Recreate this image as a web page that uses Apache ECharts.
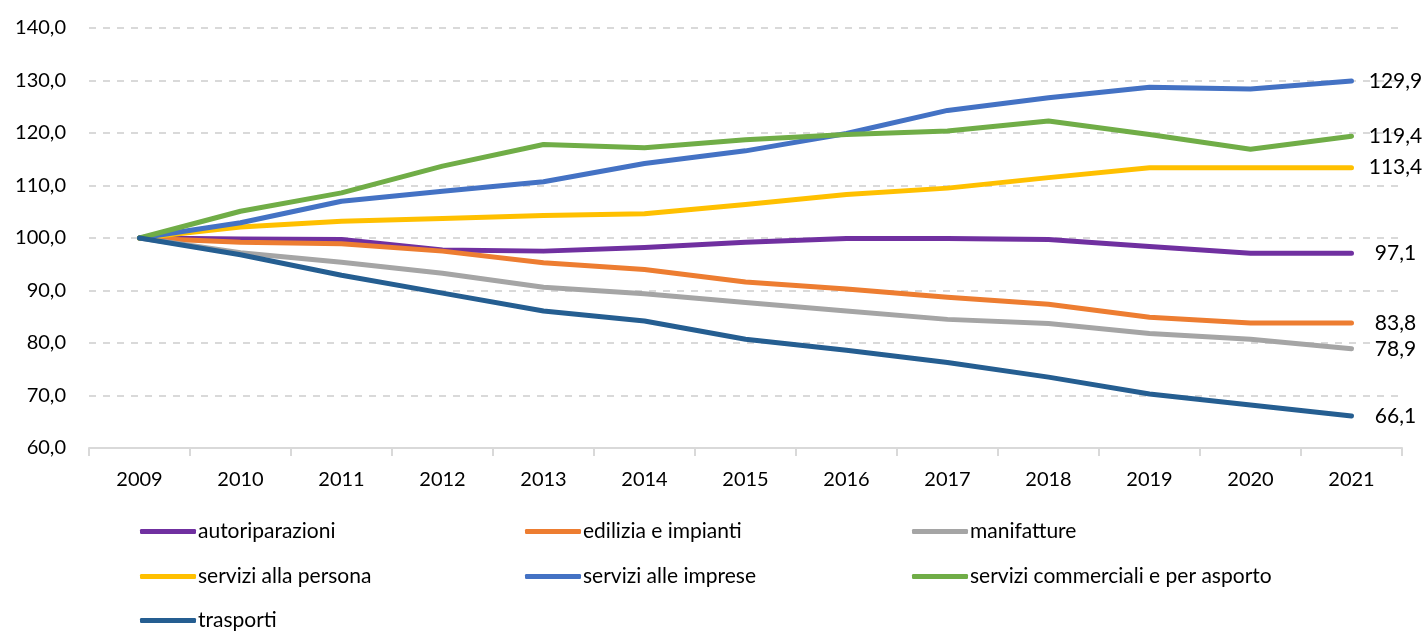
<!DOCTYPE html>
<html>
<head>
<meta charset="utf-8">
<script src="https://cdn.jsdelivr.net/npm/echarts@6/dist/echarts.min.js"></script>
<style>
html,body{margin:0;padding:0;background:#fff;}
#chart{width:1425px;height:632px;}
</style>
</head>
<body>
<div id="chart"></div>
<script>
const years = ['2009','2010','2011','2012','2013','2014','2015','2016','2017','2018','2019','2020','2021'];
const autoriparazioni = [100,99.8,99.7,97.7,97.5,98.2,99.2,99.9,99.9,99.7,98.4,97.1,97.1];
const edilizia = [100,99.2,98.9,97.5,95.3,94.0,91.6,90.3,88.7,87.4,84.9,83.8,83.8];
const manifatture = [100,97.2,95.4,93.3,90.6,89.4,87.7,86.1,84.5,83.7,81.8,80.7,78.9];
const persona = [100,102.1,103.2,103.7,104.3,104.6,106.4,108.3,109.5,111.5,113.4,113.4,113.4];
const imprese = [100,102.9,107.0,108.9,110.7,114.2,116.6,119.9,124.3,126.7,128.7,128.4,129.9];
const commerciali = [100,105.1,108.6,113.7,117.8,117.2,118.7,119.7,120.4,122.3,119.7,116.9,119.4];
const trasporti = [100,96.8,92.9,89.5,86.1,84.2,80.7,78.6,76.3,73.5,70.3,68.2,66.1];
const seriesNames = ['autoriparazioni','edilizia e impianti','manifatture','servizi alla persona','servizi alle imprese','servizi commerciali e per asporto','trasporti'];
const seriesData = [autoriparazioni, edilizia, manifatture, persona, imprese, commerciali, trasporti];
const colors = ['#7030A0','#ED7D31','#A5A5A5','#FFC000','#4472C4','#70AD47','#255E91'];

const FONT = 'Lato';
const fmt = v => v.toFixed(1).replace('.', ',');

const series = seriesNames.map((name, i) => ({
  name: name,
  type: 'line',
  data: seriesData[i],
  symbol: 'none',
  lineStyle: { width: 5, color: colors[i], cap: 'round', join: 'round' },
  itemStyle: { color: colors[i] },
  endLabel: {
    show: true,
    distance: 44,
    align: 'center',
    verticalAlign: 'middle',
    fontFamily: FONT,
    fontSize: 21,
    color: '#000',
    formatter: p => fmt(p.value)
  },
  emphasis: { disabled: true }
}));

const legendPos = [
  [140, 521], [525, 521], [912, 521],
  [140, 566], [525, 566], [912, 566],
  [140, 610]
];
const legends = seriesNames.map((name, i) => ({
  data: [name],
  left: legendPos[i][0],
  top: legendPos[i][1],
  icon: 'roundRect',
  itemWidth: 56,
  itemHeight: 5,
  padding: 0,
  textStyle: { fontFamily: FONT, fontSize: 21, color: '#000', padding: [0, 0, 0, -3] },
  selectedMode: false
}));

const chart = echarts.init(document.getElementById('chart'), null, { renderer: 'canvas' });
chart.setOption({
  animation: false,
  color: colors,
  grid: { left: 89, right: 23, top: 28, bottom: 184, containLabel: false },
  legend: legends,
  xAxis: {
    type: 'category',
    data: years,
    boundaryGap: true,
    axisLine: { lineStyle: { color: '#D9D9D9', width: 2 } },
    axisTick: { show: true, length: 8, lineStyle: { color: '#D9D9D9', width: 2 } },
    axisLabel: { fontFamily: FONT, fontSize: 20, color: '#000', margin: 22 },
    splitLine: { show: false }
  },
  yAxis: {
    type: 'value',
    min: 60,
    max: 140,
    interval: 10,
    axisLine: { show: false },
    axisTick: { show: false },
    axisLabel: { fontFamily: FONT, fontSize: 20, color: '#000', margin: 23, formatter: v => fmt(v) },
    splitLine: { lineStyle: { color: '#D9D9D9', width: 2, type: [7, 7] } }
  },
  series: series
});
</script>
</body>
</html>
